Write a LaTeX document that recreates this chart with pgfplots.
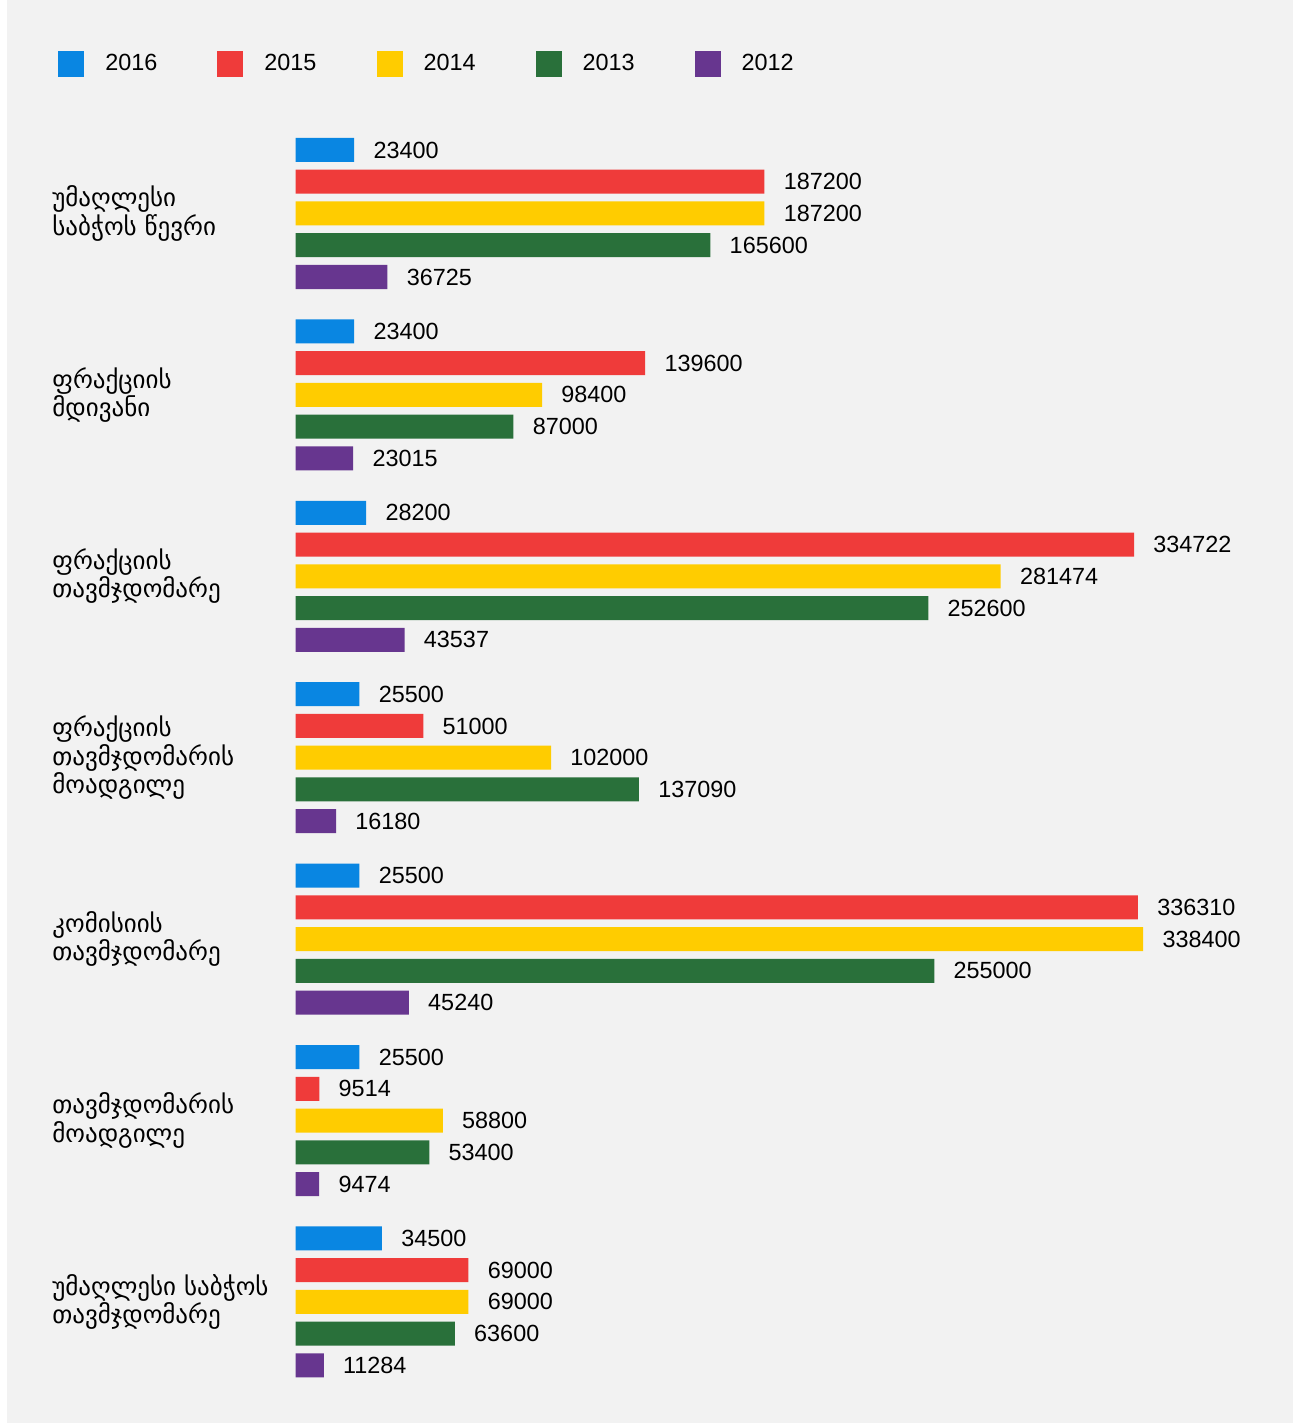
\documentclass[border=0pt]{standalone}
\usepackage{fontspec}
\setmainfont{Liberation Sans}
\newfontfamily\geo{DejaVu Sans}
\usepackage{pgfplots}
\pgfplotsset{compat=1.18}

\definecolor{c16}{RGB}{9,134,226}
\definecolor{c15}{RGB}{239,59,58}
\definecolor{c14}{RGB}{255,204,0}
\definecolor{c13}{RGB}{41,112,58}
\definecolor{c12}{RGB}{103,54,143}
\definecolor{bg}{RGB}{242,242,242}

\begin{document}
\begin{tikzpicture}
\useasboundingbox (0,0) rectangle (646.5pt,-711.5pt);
\fill[white] (0,0) rectangle (646.5pt,-711.5pt);
\fill[bg] (3.5pt,0) rectangle (646.5pt,-711.5pt);
\begin{axis}[
  at={(147.75pt,-61.4pt)}, anchor=north west,
  scale only axis, width=498.5pt, height=634.9pt,
  xbar, bar width=12pt,
  xmin=0, xmax=398000, ymin=-0.5, ymax=6.5,
  clip=false,
  axis line style={draw=none},
  major tick length=0pt,
  xtick=\empty,
  ytick={0,...,6},
  yticklabels={
    {უმაღლესი საბჭოს\\თავმჯდომარე},
    {თავმჯდომარის\\მოადგილე},
    {კომისიის\\თავმჯდომარე},
    {ფრაქციის\\თავმჯდომარის\\მოადგილე},
    {ფრაქციის\\თავმჯდომარე},
    {ფრაქციის\\მდივანი},
    {უმაღლესი\\საბჭოს წევრი}},
  yticklabel style={font=\fontsize{12.5}{14.2}\selectfont\geo, align=left,
    anchor=west, inner sep=0pt, xshift=-121.75pt},
  nodes near coords,
  point meta=explicit symbolic,
  every node near coord/.append style={font=\fontsize{11.7}{14}\selectfont,
    inner sep=0pt, anchor=west, xshift=9.5pt, text=black},
  legend image code/.code={\fill[#1] (0pt,-6.5pt) rectangle (13pt,6.5pt);},
  legend style={at={(0,1)}, anchor=west, xshift=-118.75pt, yshift=29.4pt,
    draw=none, fill=none, legend columns=-1, inner sep=0pt,
    font=\fontsize{11.7}{14}\selectfont,
    nodes={inner sep=0pt},
    /tikz/every odd column/.style={column sep=10.5pt},
    /tikz/every even column/.style={column sep=30pt}},
]
\addplot[fill=c16, draw=none, bar shift=31.75pt] coordinates {
  (34500,0)[34500] (25500,1)[25500] (25500,2)[25500] (25500,3)[25500]
  (28200,4)[28200] (23400,5)[23400] (23400,6)[23400]};
\addplot[fill=c15, draw=none, bar shift=15.875pt] coordinates {
  (69000,0)[69000] (9514,1)[9514] (336310,2)[336310] (51000,3)[51000]
  (334722,4)[334722] (139600,5)[139600] (187200,6)[187200]};
\addplot[fill=c14, draw=none, bar shift=0pt] coordinates {
  (69000,0)[69000] (58800,1)[58800] (338400,2)[338400] (102000,3)[102000]
  (281474,4)[281474] (98400,5)[98400] (187200,6)[187200]};
\addplot[fill=c13, draw=none, bar shift=-15.875pt] coordinates {
  (63600,0)[63600] (53400,1)[53400] (255000,2)[255000] (137090,3)[137090]
  (252600,4)[252600] (87000,5)[87000] (165600,6)[165600]};
\addplot[fill=c12, draw=none, bar shift=-31.75pt] coordinates {
  (11284,0)[11284] (9474,1)[9474] (45240,2)[45240] (16180,3)[16180]
  (43537,4)[43537] (23015,5)[23015] (36725,6)[36725]};
\legend{2016,2015,2014,2013,2012}
\end{axis}
\end{tikzpicture}
\end{document}
